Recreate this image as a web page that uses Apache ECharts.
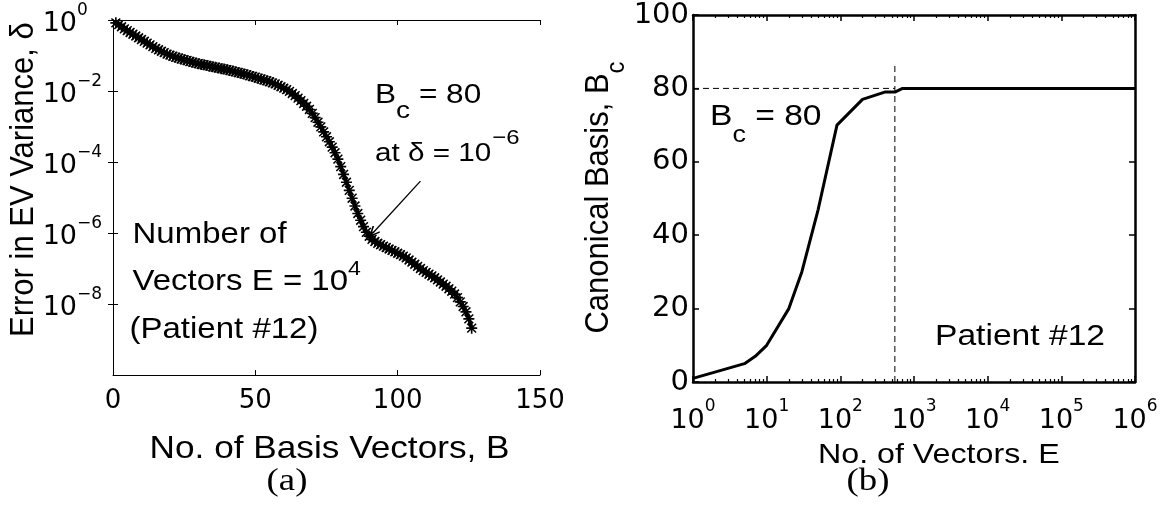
<!DOCTYPE html>
<html><head><meta charset="utf-8">
<script src="https://cdn.jsdelivr.net/npm/echarts@6/dist/echarts.min.js"></script>
<style>html,body{margin:0;padding:0;background:#fff}#c{width:1166px;height:507px}</style>
</head><body><div id="c"></div>
<script>
// ---- Panel (a): error in EV variance (log10 of delta), B = 1..126
const errorExponent = [
 -0.08,-0.13,-0.19,-0.25,-0.30,-0.35,-0.40,-0.45,-0.50,-0.55,
 -0.60,-0.65,-0.70,-0.75,-0.80,-0.84,-0.88,-0.92,-0.96,-0.99,
 -1.02,-1.05,-1.07,-1.10,-1.12,-1.14,-1.17,-1.19,-1.21,-1.23,
 -1.25,-1.26,-1.28,-1.30,-1.32,-1.33,-1.35,-1.37,-1.38,-1.40,
 -1.42,-1.44,-1.46,-1.48,-1.50,-1.52,-1.54,-1.57,-1.59,-1.61,
 -1.64,-1.66,-1.69,-1.71,-1.74,-1.77,-1.80,-1.84,-1.88,-1.92,
 -1.96,-2.01,-2.07,-2.13,-2.20,-2.27,-2.35,-2.43,-2.52,-2.63,
 -2.75,-2.88,-3.01,-3.15,-3.29,-3.43,-3.58,-3.74,-3.92,-4.13,
 -4.35,-4.57,-4.80,-5.02,-5.24,-5.45,-5.64,-5.82,-5.98,-6.09,
 -6.18,-6.24,-6.29,-6.33,-6.37,-6.41,-6.45,-6.49,-6.53,-6.57,
 -6.61,-6.65,-6.70,-6.76,-6.82,-6.88,-6.94,-7.00,-7.06,-7.11,
 -7.16,-7.21,-7.26,-7.32,-7.38,-7.44,-7.50,-7.57,-7.64,-7.72,
 -7.82,-7.94,-8.07,-8.22,-8.42,-8.68
];
const basisTicks = [0, 50, 100, 150];
const errTicks = [1e-8, 1e-6, 1e-4, 1e-2, 1];
const errTickExp = ['\u22128', '\u22126', '\u22124', '\u22122', '0'];
const arrowTail = [108, 2.9e-5];
const arrowHead = [91.3, 1.0e-6];

// ---- Panel (b): canonical basis vs number of vectors
const vectorsE = [1, 5, 7, 10, 20, 30, 50, 90, 200, 400, 550, 700, 1000000];
const canonicalB = [1, 5, 7, 10, 20, 30, 47, 70, 77, 79, 79, 80, 80];
const canonTicks = [0, 20, 40, 60, 80, 100];
const vecTicks = [1, 10, 100, 1000, 10000, 100000, 1000000];
const vecTickExp = ['0', '1', '2', '3', '4', '5', '6'];
const bcLineH = [[1, 80], [550, 80]];
const bcLineV = [[550, 0], [550, 87]];

// minor tick positions (2..9 per decade) for panel (b)
const vecMinorTicks = [];
for (let d = 0; d < 6; d++) for (let k = 2; k <= 9; k++) vecMinorTicks.push(k * Math.pow(10, d));

const SANS = 'Liberation Sans';
const SERIF = 'Liberation Serif';
const TICK = 'DejaVu Sans';
const BLACK = '#000';

const star = 'path://M8.5,0 L11.5,0 L11.5,20 L8.5,20 Z M0,8.5 L20,8.5 L20,11.5 L0,11.5 Z M1,3 L3,1 L19,17 L17,19 Z M17,1 L19,3 L3,19 L1,17 Z';
const openArrow = 'path://M5,0 L10,9 L8.8,10 L5,3 L1.2,10 L0,9 Z';

function expIndex(ticks, v) {
  let best = 0, bd = Infinity;
  ticks.forEach((t, i) => { const d = Math.abs(Math.log10(t) - Math.log10(v)); if (d < bd) { bd = d; best = i; } });
  return best;
}

const chart = echarts.init(document.getElementById('c'), null, {renderer: 'canvas'});

const thinLine = {show: true, lineStyle: {color: BLACK, width: 1}};
const thickLine = {show: true, lineStyle: {color: BLACK, width: 2.5}};

function txt(x, y, text, rich, extra) {
  return Object.assign({
    type: 'text', x: x, y: y, silent: true,
    style: {text: text, fill: BLACK, align: 'left', verticalAlign: 'top', rich: rich}
  }, extra || {});
}
function tok(size, pad, family) {
  return {fontFamily: family || SANS, fontSize: size, lineHeight: size, verticalAlign: 'top', padding: pad || [0, 0, 0, 0], color: BLACK};
}
function tickTok(size, lh, va, more) {
  return Object.assign({fontFamily: TICK, fontSize: size, lineHeight: lh, verticalAlign: va, align: 'left', color: BLACK}, more || {});
}

const option = {
  animation: false,
  backgroundColor: '#fff',
  grid: [
    {left: 113, top: 20, width: 427, height: 355, outerBoundsMode: 'none', containLabel: false},
    {left: 693, top: 15, width: 442, height: 367, outerBoundsMode: 'none', containLabel: false}
  ],
  xAxis: [
    {gridIndex: 0, type: 'value', min: 0, max: 150, interval: 50, position: 'bottom',
     axisLine: thinLine, splitLine: {show: false},
     axisTick: {show: true, inside: true, length: 5, lineStyle: {color: BLACK, width: 1}},
     axisLabel: {show: true, color: BLACK, fontFamily: TICK, fontSize: 26, margin: 13,
                 customValues: basisTicks, formatter: v => String(v)}},
    {gridIndex: 0, type: 'value', min: 0, max: 150, interval: 50, position: 'top',
     axisLine: thinLine, splitLine: {show: false},
     axisTick: {show: true, inside: true, length: 5, lineStyle: {color: BLACK, width: 1}},
     axisLabel: {show: false}},
    {gridIndex: 1, type: 'log', logBase: 10, min: 1, max: 1000000, position: 'bottom',
     axisLine: thickLine, splitLine: {show: false}, minorTick: {show: false},
     axisTick: {show: true, inside: true, length: 6, customValues: vecTicks, lineStyle: {color: BLACK, width: 1.5}},
     axisLabel: {show: true, margin: 16, customValues: vecTicks,
       formatter: v => '{b|10}{s|' + vecTickExp[expIndex(vecTicks, v)] + '}',
       rich: {b: tickTok(27, 36, 'bottom'), s: tickTok(17, 17, 'top')}}},
    {gridIndex: 1, type: 'log', logBase: 10, min: 1, max: 1000000, position: 'bottom',
     axisLine: {show: false}, splitLine: {show: false},
     axisTick: {show: true, inside: true, length: 3, customValues: vecMinorTicks, lineStyle: {color: BLACK, width: 1.2}},
     axisLabel: {show: false}},
    {gridIndex: 1, type: 'log', logBase: 10, min: 1, max: 1000000, position: 'top',
     axisLine: thickLine, splitLine: {show: false},
     axisTick: {show: true, inside: true, length: 6, customValues: vecTicks, lineStyle: {color: BLACK, width: 1.5}},
     axisLabel: {show: false}},
    {gridIndex: 1, type: 'log', logBase: 10, min: 1, max: 1000000, position: 'top',
     axisLine: {show: false}, splitLine: {show: false},
     axisTick: {show: true, inside: true, length: 3, customValues: vecMinorTicks, lineStyle: {color: BLACK, width: 1.2}},
     axisLabel: {show: false}}
  ],
  yAxis: [
    {gridIndex: 0, type: 'log', logBase: 10, min: 1e-10, max: 1, position: 'left',
     axisLine: thinLine, splitLine: {show: false}, minorTick: {show: false},
     axisTick: {show: true, inside: true, length: 5, customValues: errTicks, lineStyle: {color: BLACK, width: 1}},
     axisLabel: {show: true, margin: 8, customValues: errTicks,
       formatter: v => '{b|10}{s|' + errTickExp[expIndex(errTicks, v)] + '}',
       rich: {b: tickTok(27, 35, 'bottom'), s: tickTok(17, 17, 'top', {width: 28})}}},
    {gridIndex: 0, type: 'log', logBase: 10, min: 1e-10, max: 1, position: 'right',
     axisLine: thinLine, splitLine: {show: false},
     axisTick: {show: true, inside: true, length: 5, customValues: errTicks, lineStyle: {color: BLACK, width: 1}},
     axisLabel: {show: false}},
    {gridIndex: 1, type: 'value', min: 0, max: 100, interval: 20, position: 'left',
     axisLine: thickLine, splitLine: {show: false},
     axisTick: {show: true, inside: true, length: 6, lineStyle: {color: BLACK, width: 1.5}},
     axisLabel: {show: true, color: BLACK, fontFamily: TICK, fontSize: 29, margin: 4,
                 customValues: canonTicks, formatter: v => String(v)}},
    {gridIndex: 1, type: 'value', min: 0, max: 100, interval: 20, position: 'right',
     axisLine: thickLine, splitLine: {show: false},
     axisTick: {show: true, inside: true, length: 6, lineStyle: {color: BLACK, width: 1.5}},
     axisLabel: {show: false}}
  ],
  series: [
    {type: 'line', xAxisIndex: 0, yAxisIndex: 0, silent: true,
     data: errorExponent.map((e, i) => [i + 1, Math.pow(10, e)]),
     symbol: star, symbolSize: 11, showSymbol: true, showAllSymbol: true,
     itemStyle: {color: BLACK}, lineStyle: {color: BLACK, width: 3.5}},
    {type: 'line', xAxisIndex: 0, yAxisIndex: 0, silent: true,
     data: [arrowTail, arrowHead], symbol: 'none', lineStyle: {width: 0, opacity: 0},
     markLine: {silent: true, animation: false, symbol: ['none', openArrow], symbolSize: [10, 12],
       label: {show: false}, lineStyle: {color: BLACK, width: 1.3, type: 'solid'},
       data: [[{coord: arrowTail}, {coord: arrowHead}]]}},
    {type: 'line', xAxisIndex: 2, yAxisIndex: 2, silent: true,
     data: vectorsE.map((e, i) => [e, canonicalB[i]]),
     symbol: 'none', lineStyle: {color: BLACK, width: 3}},
    {type: 'line', xAxisIndex: 2, yAxisIndex: 2, silent: true, data: bcLineH,
     symbol: 'none', lineStyle: {color: BLACK, width: 1, type: [6, 4]}},
    {type: 'line', xAxisIndex: 2, yAxisIndex: 2, silent: true, data: bcLineV,
     symbol: 'none', lineStyle: {color: BLACK, width: 1, type: [6, 4]}}
  ],
  graphic: [
    // panel (a) annotations
    txt(375, 82.2, '{n|B}{s|c}{n| = 80}', {n: tok(27), s: tok(24, [16.7, 0, 0, 0])}, {scaleX: 1.17}),
    txt(375, 128.2, '{n|at \u03b4 = 10}{s|\u22126}', {n: tok(26, [13.1, 0, 0, 0]), s: tok(21, [0, 0, 0, 1])}, {scaleX: 1.14}),
    txt(132.5, 219.4, '{n|Number of}', {n: tok(30)}, {scaleX: 1.1}),
    txt(132.5, 258.9, '{n|Vectors E = 10}{s|4}', {n: tok(30, [7.4, 0, 0, 0]), s: tok(21)}, {scaleX: 1.1}),
    txt(129.5, 314.6, '{n|(Patient #12)}', {n: tok(30)}, {scaleX: 1.1}),
    // panel (a) axis titles
    {type: 'text', x: 329.6, y: 433.4, scaleX: 1.1, silent: true,
     style: {text: 'No. of Basis Vectors, B', fill: BLACK, fontFamily: SANS, fontSize: 32, align: 'center', verticalAlign: 'top'}},
    {type: 'text', x: 6.6, y: 179.6, rotation: Math.PI / 2, scaleY: 1.1, silent: true,
     style: {text: 'Error in EV Variance, \u03b4', fill: BLACK, fontFamily: SANS, fontSize: 31, align: 'center', verticalAlign: 'top'}},
    {type: 'text', x: 287, y: 482, scaleX: 1.15, silent: true,
     style: {text: '(a)', fill: BLACK, fontFamily: SERIF, fontSize: 32, align: 'center', verticalAlign: 'middle'}},
    // panel (b) annotations
    txt(710, 101.3, '{n|B}{s|c}{n| = 80}', {n: tok(30), s: tok(24, [21.7, 0, 0, 0])}, {scaleX: 1.12}),
    txt(935, 321.3, '{n|Patient #12}', {n: tok(30)}, {scaleX: 1.12}),
    // panel (b) axis titles
    txt(818, 441.3, '{n|No. of Vectors. E}', {n: tok(28)}, {scaleX: 1.15}),
    {type: 'text', x: 581.3, y: 197.5, rotation: Math.PI / 2, scaleY: 1.1, silent: true,
     style: {text: '{n|Canonical Basis, B}{s|c}', fill: BLACK, align: 'center', verticalAlign: 'top',
             rich: {n: tok(31), s: tok(24, [20.4, 0, 0, 0])}}},
    {type: 'text', x: 868, y: 482, scaleX: 1.15, silent: true,
     style: {text: '(b)', fill: BLACK, fontFamily: SERIF, fontSize: 32, align: 'center', verticalAlign: 'middle'}}
  ]
};
chart.setOption(option);
</script>
</body></html>
